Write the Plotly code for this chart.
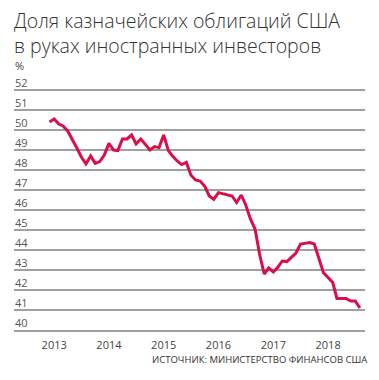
import plotly.graph_objects as go
import pandas as pd

# Monthly share of US Treasuries held by foreign investors, %
months = pd.date_range("2012-12-01", "2018-08-01", freq="MS").strftime("%Y-%m-%d").tolist()
share = [
    50.4,
    50.55, 50.3, 50.2, 49.95, 49.55, 49.1, 48.65, 48.3, 48.7, 48.33, 48.42, 48.75,
    49.33, 49.0, 48.97, 49.55, 49.55, 49.75, 49.3, 49.55, 49.28, 49.0, 49.17, 49.12,
    49.75, 48.97, 48.7, 48.45, 48.27, 48.38, 47.75, 47.5, 47.45, 47.2, 46.7, 46.53,
    46.87, 46.82, 46.78, 46.7, 46.37, 46.75, 46.25, 45.55, 45.05, 43.8, 42.8, 43.1,
    42.9, 43.15, 43.45, 43.42, 43.63, 43.85, 44.3, 44.33, 44.37, 44.3, 43.6, 42.87,
    42.63, 42.37, 41.58, 41.58, 41.58, 41.45, 41.45, 41.1,
]
year_ticks = ["2013-01-01", "2014-01-01", "2015-01-01", "2016-01-01", "2017-01-01", "2018-01-01"]
year_labels = ["2013", "2014", "2015", "2016", "2017", "2018"]
y_ticks = list(range(40, 53))

title_lines = ["Доля казначейских облигаций США", "в руках иностранных инвесторов"]
unit = "%"
source = "ИСТОЧНИК: МИНИСТЕРСТВО ФИНАНСОВ США"

FONT = "Open Sans"

fig = go.Figure()
fig.add_trace(go.Scatter(
    x=months, y=share, mode="lines",
    line=dict(color="#D80F4A", width=3, shape="linear"),
    hoverinfo="skip",
))

fig.update_layout(
    width=371, height=372,
    margin=dict(l=6, r=14, t=76, b=50),
    paper_bgcolor="white", plot_bgcolor="white",
    showlegend=False,
    font=dict(family=FONT, color="#444"),
    xaxis=dict(
        type="date",
        range=["2012-04-08", "2018-09-04"],
        tickvals=year_ticks, ticktext=year_labels,
        showgrid=False, zeroline=False,
        showline=True, linecolor="#A0A0A0", linewidth=1.5,
        ticks="", ticklabelstandoff=4,
        tickfont=dict(size=11, color="#444", family=FONT),
        fixedrange=True,
    ),
    yaxis=dict(
        range=[40, 52.3],
        tickvals=y_ticks,
        showticklabels=False,
        showgrid=True, gridcolor="#A0A0A0", gridwidth=1.5,
        zeroline=False, showline=False, ticks="",
        fixedrange=True,
    ),
)

for v in y_ticks:
    fig.add_annotation(
        text=str(v), xref="paper", yref="y", x=0, y=v,
        xanchor="left", yanchor="bottom", xshift=-1, yshift=-2,
        showarrow=False, font=dict(size=11, color="#555", family=FONT),
    )

for line_text, shift in zip(title_lines, [63.5, 38.5]):
    fig.add_annotation(
        text=line_text, xref="paper", yref="paper", x=0, y=1,
        xanchor="left", yanchor="middle", xshift=-1, yshift=shift,
        showarrow=False, align="left", borderpad=0,
        font=dict(size=19.5, color="#333", family=FONT, weight=300),
    )
fig.add_annotation(
    text=unit, xref="paper", yref="paper", x=0, y=1, xanchor="left", yanchor="middle",
    xshift=0, yshift=19, showarrow=False, borderpad=0,
    font=dict(size=11, color="#444", family=FONT),
)
fig.add_annotation(
    text=source, xref="paper", yref="paper", x=1, y=0, xanchor="right", yanchor="top",
    xshift=3, yshift=-22, showarrow=False, borderpad=0,
    font=dict(size=9.5, color="#333", family=FONT),
)

fig.write_html("out.html")
